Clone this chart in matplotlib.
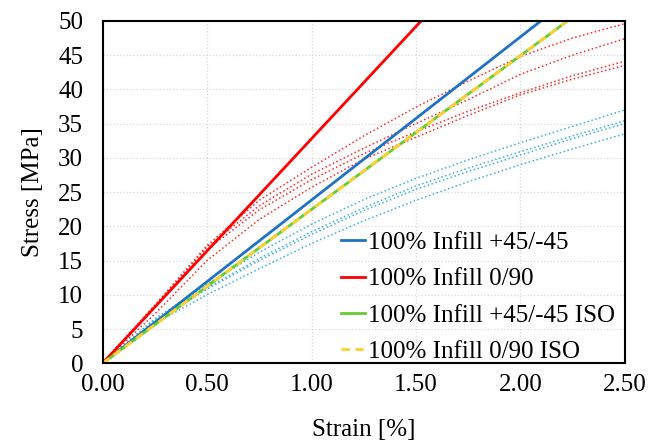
import matplotlib.pyplot as plt

plt.rcParams['font.family'] = ['Liberation Serif', 'DejaVu Serif']

# strain points where the test curves were read [%]
strain = [0, 0.25, 0.5, 0.75, 1.0, 1.25, 1.5, 1.75, 2.0, 2.25, 2.5]

# 0/90 test specimens (stress, MPa)
red_tests = [
    [0, 8.5, 17.2, 23.8, 28.6, 33.2, 37.4, 41.2, 44.8, 47.5, 49.6],
    [0, 8.3, 17.0, 23.0, 27.6, 31.4, 35.0, 38.5, 42.2, 45.0, 47.4],
    [0, 8.2, 16.6, 22.4, 26.8, 30.6, 33.8, 36.8, 39.5, 42.0, 44.1],
    [0, 7.2, 15.0, 21.0, 25.7, 29.8, 33.0, 36.2, 39.2, 41.5, 43.5],
]
# +45/-45 test specimens
blue_tests = [
    [0, 6.5, 11.5, 16.2, 20.3, 23.9, 27.0, 29.7, 32.2, 34.6, 37.0],
    [0, 6.3, 11.0, 15.3, 19.2, 22.7, 25.9, 28.5, 30.9, 33.2, 35.4],
    [0, 6.2, 10.8, 15.0, 18.8, 22.3, 25.4, 28.0, 30.4, 32.8, 35.0],
    [0, 5.8, 10.0, 13.8, 17.5, 20.8, 23.8, 26.5, 29.0, 31.3, 33.5],
]

# linear models (start / end points)
model_labels = ['100% Infill +45/-45', '100% Infill 0/90',
                '100% Infill +45/-45 ISO', '100% Infill 0/90 ISO']
model_strain = [[0, 2.098], [0, 1.525], [0, 2.226], [0, 2.226]]
model_stress = [[0, 50], [0, 50], [0, 50], [0, 50]]
model_colors = ['#1f72c6', '#ff0000', '#66cc33', '#ffd030']
model_styles = ['-', '-', '-', (0, (3, 2))]

fig = plt.figure(figsize=(6.49, 4.43), dpi=100)
ax = fig.add_axes([0.158, 0.180, 0.805, 0.773])

for s in red_tests:
    ax.plot(strain, s, color='#ff2a2a', lw=1.1, ls=':')
for s in blue_tests:
    ax.plot(strain, s, color='#3cb0e8', lw=1.1, ls=':')

for xs, ys, lab, c, st in zip(model_strain, model_stress, model_labels,
                              model_colors, model_styles):
    ax.plot(xs, ys, color=c, ls=st, lw=2.0, label=lab)

ax.set_xlim(0, 2.5)
ax.set_ylim(0, 50)
ax.set_xticks([0, 0.5, 1.0, 1.5, 2.0, 2.5])
ax.set_xticklabels(['0.00', '0.50', '1.00', '1.50', '2.00', '2.50'])
ax.set_yticks(range(0, 51, 5))
ax.tick_params(length=0, labelsize=18)
ax.tick_params(axis='y', pad=14)
ax.tick_params(axis='x', pad=8)
ax.grid(True, color='#d9d9d9', ls=':', lw=0.9)
for sp in ax.spines.values():
    sp.set_linewidth(1.5)

ax.set_xlabel('Strain [%]', fontsize=18, labelpad=16)
ax.set_ylabel('Stress [MPa]', fontsize=18, labelpad=10)

ax.legend(loc='lower right', bbox_to_anchor=(1.0, -0.028), frameon=False,
          fontsize=18, borderaxespad=0.0, handlelength=0.95,
          handletextpad=0.12, labelspacing=0.55)

fig.savefig('out.png', dpi=100)
